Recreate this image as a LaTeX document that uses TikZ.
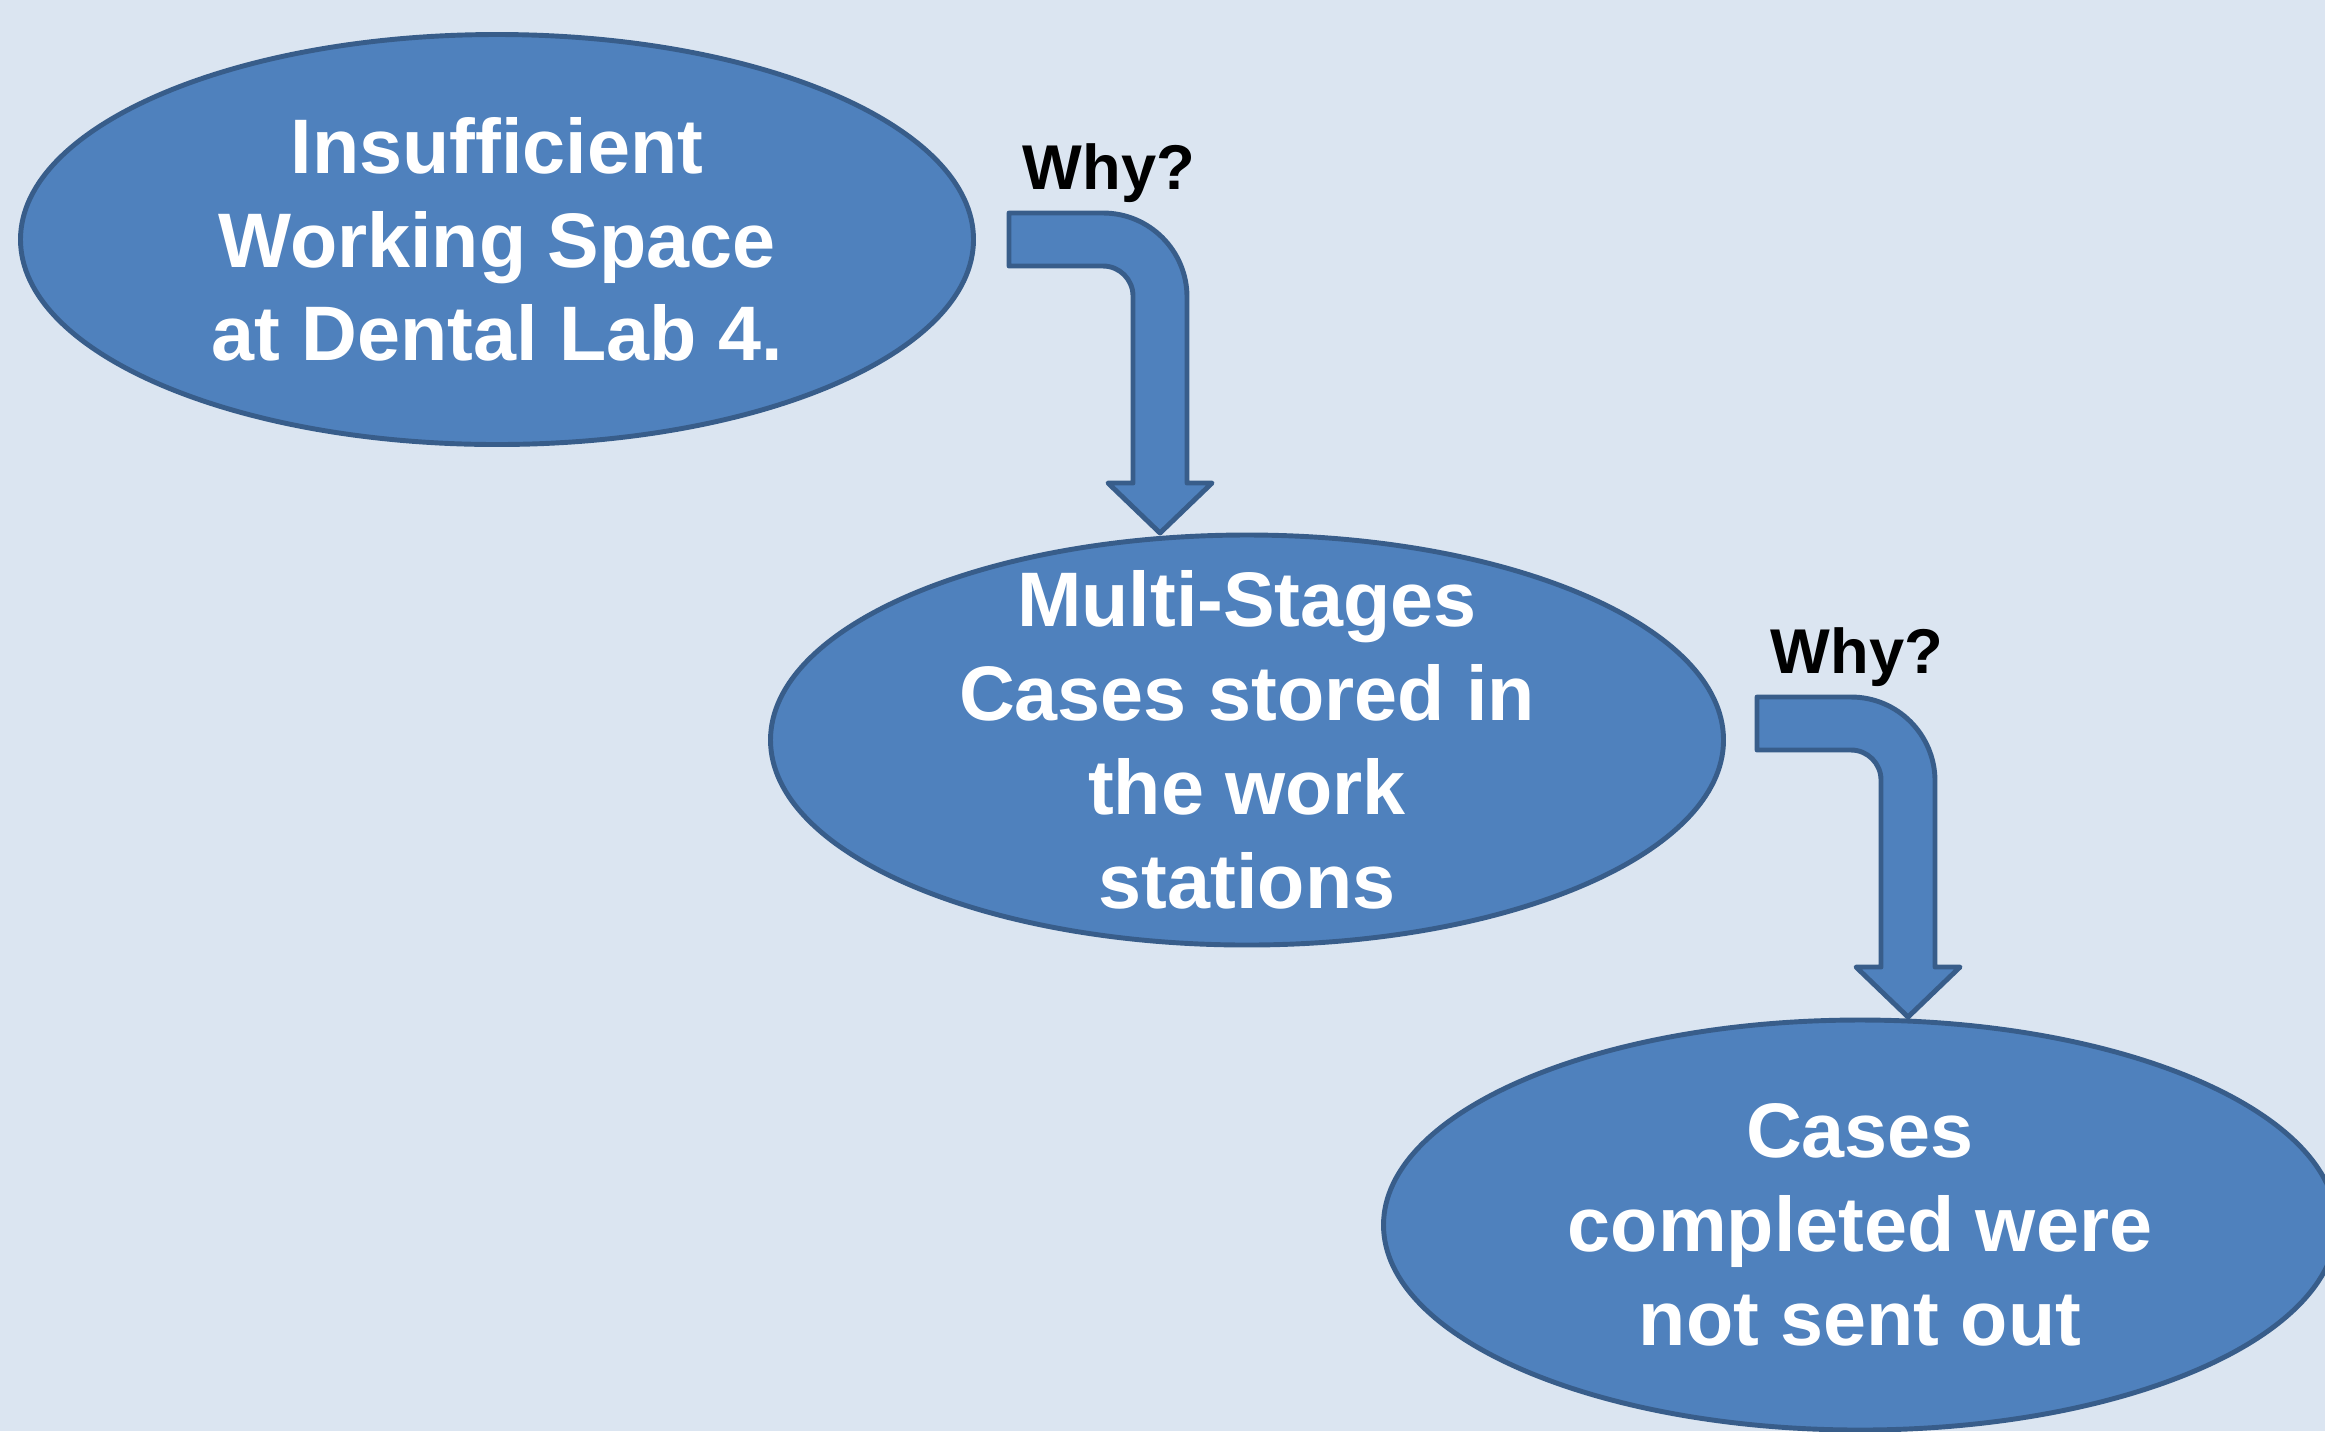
\documentclass[tikz,border=0pt]{standalone}
\usepackage{fontspec}
\setmainfont{Liberation Sans}
\usetikzlibrary{shapes.geometric}
\definecolor{slide}{HTML}{DBE5F1}
\definecolor{causefill}{HTML}{4F81BD}
\definecolor{causeline}{HTML}{385D8A}
\tikzstyle{cause}=[ellipse, fill=causefill, draw=causeline, line width=1.4pt, minimum width=9.53cm, minimum height=4.1cm, inner xsep=0pt, inner ysep=-1cm, text=white, align=center, font=\fontsize{22}{26.7}\selectfont\bfseries]
\tikzstyle{why}=[anchor=base west, inner sep=0pt, font=\fontsize{18}{21.6}\selectfont\bfseries]
\tikzstyle{bent arrow}=[fill=causefill, draw=causeline, line width=1.4pt, line join=round]
\pgfdeclarelayer{nodelayer}
\pgfdeclarelayer{edgelayer}
\pgfsetlayers{main,nodelayer,edgelayer}

\begin{document}
\begin{tikzpicture}
        	\fill [slide] (0, 0) rectangle (23.25, -14.31);
        	\useasboundingbox (0, 0) rectangle (23.25, -14.31);
        	\begin{pgfonlayer}{nodelayer}
        		\node [style=cause] (0) at (4.97, -2.395) {Insufficient\\Working Space\\at Dental Lab 4.};
        		\node [style=cause] (1) at (12.47, -7.40) {Multi-Stages\\Cases stored in\\the work\\stations};
        		\node [style=cause] (2) at (18.60, -12.25) {Cases\\completed were\\not sent out};
        	\end{pgfonlayer}
        	\begin{pgfonlayer}{edgelayer}
        		\foreach \n/\x/\y in {0/10.09/-2.13, 1/17.57/-6.97} {
        			\coordinate (t\n) at (\x, \y);
        			\node [style=why] (why\n) at ([shift={(0.13, 0.24)}]t\n) {Why?};
        			\draw [style=bent arrow] (t\n) -- ++(0.94, 0) arc [start angle=90, end angle=0, radius=0.84]
        				-- ++(0, -1.86) -- ++(0.25, 0) -- ++(-0.52, -0.50) -- ++(-0.52, 0.50) -- ++(0.25, 0)
        				-- ++(0, 1.87) arc [start angle=0, end angle=90, radius=0.30] -- ++(-0.94, 0) -- cycle;
        		}
        	\end{pgfonlayer}
\end{tikzpicture}
\end{document}
